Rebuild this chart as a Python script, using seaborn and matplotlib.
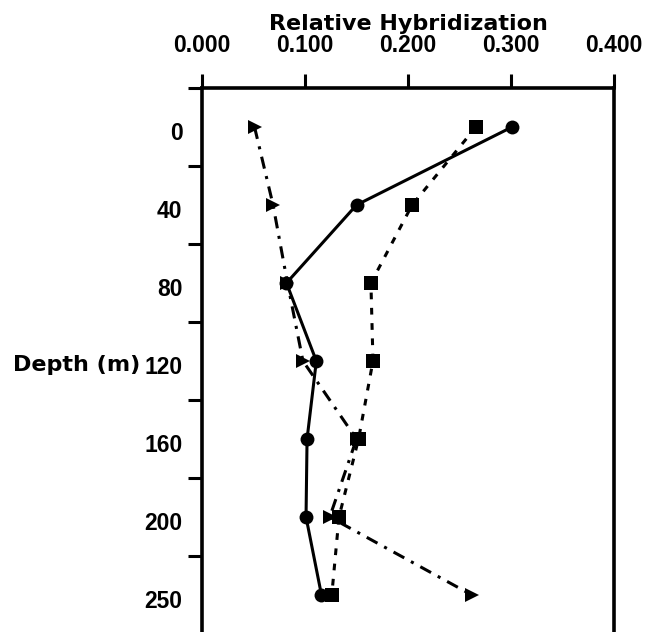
import matplotlib
matplotlib.use("Agg")
import matplotlib.pyplot as plt
import matplotlib.transforms as mtransforms
import seaborn as sns
import pandas as pd
import numpy as np
from matplotlib.ticker import FixedLocator, FormatStrFormatter

depths = ["0", "40", "80", "120", "160", "200", "250"]
circles = [0.301, 0.150, 0.082, 0.111, 0.102, 0.101, 0.116]
squares = [0.266, 0.204, 0.164, 0.166, 0.152, 0.133, 0.126]
triangles = [0.051, 0.069, 0.083, 0.098, 0.150, 0.124, 0.262]
x_ticks = [0.0, 0.1, 0.2, 0.3, 0.4]

series_names = ["circles", "squares", "triangles"]
rows = []
for name, vals in zip(series_names, [circles, squares, triangles]):
    for i, v in enumerate(vals):
        rows.append({"series": name, "pos": i, "value": v})
df = pd.DataFrame(rows)

sns.set_style("ticks")
plt.rcParams["font.family"] = ["Liberation Sans", "DejaVu Sans"]
plt.rcParams["font.weight"] = "bold"
for k in ["text.color", "axes.labelcolor", "xtick.color", "ytick.color", "axes.edgecolor"]:
    plt.rcParams[k] = "black"

fig = plt.figure(figsize=(6.51, 6.32), dpi=100)
ax = fig.add_axes([202 / 651, -2 / 632, 412 / 651, (634 - 88) / 632])

sns.lineplot(
    data=df, x="value", y="pos", style="series", orient="y", sort=False,
    markers={"circles": "o", "squares": "s", "triangles": ">"},
    dashes={"circles": "", "squares": (2.2, 2.8), "triangles": (4.0, 2.5, 1.0, 2.5)},
    color="black", linewidth=2.2, markersize=10, markeredgewidth=0,
    legend=False, ax=ax,
)
for line in ax.lines:
    if line.get_marker() == "s":
        line.set_markersize(10.5)

ax.set_xlim(0, 0.4)
ax.set_ylim(6.5, -0.5)

ax.xaxis.tick_top()
ax.xaxis.set_label_position("top")
ax.set_xticks(x_ticks)
ax.xaxis.set_major_formatter(FormatStrFormatter("%.3f"))
ax.set_xlabel("Relative Hybridization", fontsize=16, fontweight="bold",
              family="DejaVu Sans", labelpad=3)
ax.tick_params(axis="x", direction="out", length=10, width=2.2, labelsize=16.5, pad=12)

ax.set_yticks(range(len(depths)))
ax.set_yticklabels(depths)
ax.yaxis.set_minor_locator(FixedLocator(np.arange(-0.5, 7.0, 1.0)))
ax.tick_params(axis="y", which="major", length=0, labelsize=16.5, pad=14)
ax.tick_params(axis="y", which="minor", direction="out", length=10, width=2.2)
shift = mtransforms.ScaledTranslation(0, -4 / 100, fig.dpi_scale_trans)
for lab in ax.get_xticklabels():
    lab.set_fontweight("bold")
for lab in ax.get_yticklabels():
    lab.set_fontweight("bold")
    lab.set_transform(lab.get_transform() + shift)

ax.set_ylabel("Depth (m)", fontsize=16, fontweight="bold", family="DejaVu Sans",
              rotation=0, ha="right", va="center")
ax.yaxis.set_label_coords(-0.150, 0.5 - 4 / 546)

for side in ["left", "right", "top"]:
    ax.spines[side].set_linewidth(2.6)
    ax.spines[side].set_color("black")
ax.spines["bottom"].set_visible(False)

fig.savefig("out.png", dpi=100)
